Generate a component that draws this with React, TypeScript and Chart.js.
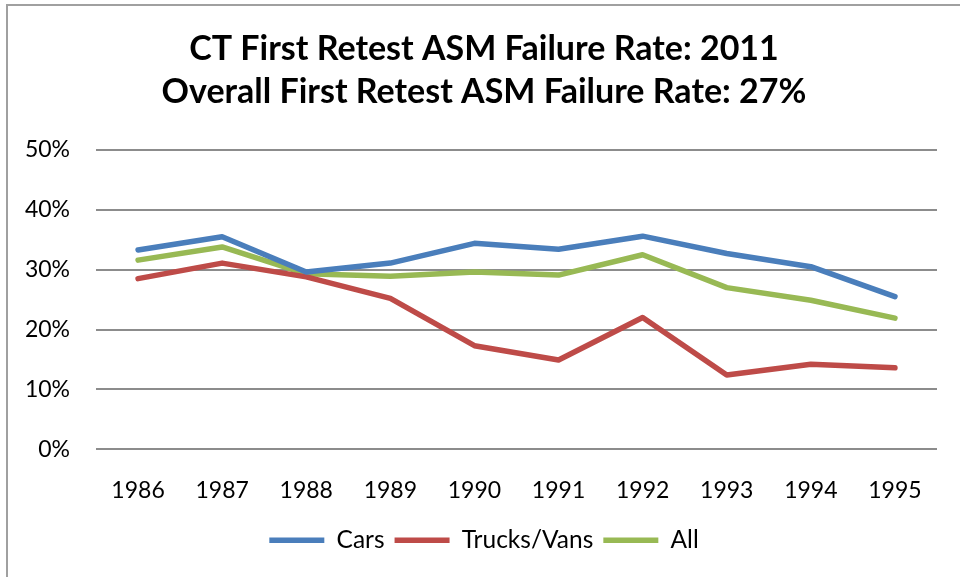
import React, { useEffect, useRef } from "react";
import { Chart, registerables } from "chart.js";

Chart.register(...registerables);

const years = ["1986", "1987", "1988", "1989", "1990", "1991", "1992", "1993", "1994", "1995"];
const cars = [33.3, 35.5, 29.6, 31.1, 34.4, 33.4, 35.6, 32.7, 30.5, 25.5];
const trucksVans = [28.5, 31.1, 28.8, 25.2, 17.3, 14.9, 22.0, 12.4, 14.2, 13.6];
const all = [31.6, 33.8, 29.3, 28.9, 29.6, 29.1, 32.5, 27.0, 24.9, 21.9];
const titleLines = ["CT First Retest ASM Failure Rate: 2011", "Overall First Retest ASM Failure Rate: 27%"];

const FONT = "Lato, 'Open Sans', sans-serif";

const framePlugin = {
  id: "frame",
  beforeDraw(chart: any) {
    const ctx = chart.ctx;
    ctx.save();
    ctx.fillStyle = "#ffffff";
    ctx.fillRect(0, 0, chart.width, chart.height);
    ctx.strokeStyle = "#a0a0a0";
    ctx.lineWidth = 2;
    ctx.beginPath();
    ctx.moveTo(7, chart.height);
    ctx.lineTo(7, 5);
    ctx.lineTo(chart.width, 5);
    ctx.stroke();
    ctx.restore();
  },
};

export default function App() {
  const ref = useRef<HTMLCanvasElement | null>(null);
  useEffect(() => {
    if (!ref.current) return;
    const mk = (label: string, data: number[], color: string) => ({
      label,
      data,
      borderColor: color,
      backgroundColor: color,
      borderWidth: 5.5,
      borderCapStyle: "round",
      borderJoinStyle: "round",
      pointRadius: 0,
      pointHoverRadius: 0,
      tension: 0,
      fill: false,
      yAxisID: "y",
    });
    const chart = new Chart(ref.current, {
      type: "line",
      data: {
        labels: years,
        datasets: [
          mk("Cars", cars, "#4a7ebb"),
          mk("Trucks/Vans", trucksVans, "#be4b48"),
          mk("All", all, "#98b954"),
        ] as any,
      },
      plugins: [framePlugin],
      options: {
        animation: false,
        responsive: false,
        devicePixelRatio: 1,
        layout: { padding: { left: 8, right: 0, top: 0, bottom: 14.5 } },
        plugins: {
          title: {
            display: true,
            text: titleLines,
            color: "#000000",
            font: { family: FONT, size: 34, weight: "bold", lineHeight: 43 / 34 },
            padding: { top: 28, bottom: 36 },
          },
          legend: {
            display: true,
            position: "bottom",
            labels: {
              usePointStyle: true,
              pointStyle: "line",
              pointStyleWidth: 55,
              boxHeight: 6,
              color: "#000000",
              font: { family: FONT, size: 24.5 },
              padding: 10,
            },
          },
          tooltip: { enabled: false },
        },
        scales: {
          x: {
            offset: true,
            grid: { display: false },
            border: { display: false },
            ticks: {
              color: "#000000",
              font: { family: FONT, size: 23 },
              padding: 20,
              maxRotation: 0,
            },
            afterFit(scale: any) {
              scale.height = 68.8;
            },
          },
          y: {
            min: 0,
            max: 50,
            grid: { color: "#8c8c8c", lineWidth: 2, drawTicks: false },
            border: { display: false },
            ticks: {
              stepSize: 10,
              color: "#000000",
              font: { family: FONT, size: 23 },
              padding: 26,
              callback: (v: any) => v + "%",
            },
            afterFit(scale: any) {
              scale.width = 88;
            },
          },
          yRight: {
            type: "linear",
            position: "right",
            min: 0,
            max: 50,
            grid: { display: false, drawTicks: false },
            border: { display: false },
            ticks: { display: false },
            afterFit(scale: any) {
              scale.width = 23;
            },
          },
        },
      } as any,
    });
    return () => chart.destroy();
  }, []);
  return (
    <div style={{ position: "fixed", left: 0, top: 0, width: 960, height: 577, background: "#fff" }}>
      <canvas ref={ref} width={960} height={577} style={{ display: "block", width: 960, height: 577 }} />
    </div>
  );
}
